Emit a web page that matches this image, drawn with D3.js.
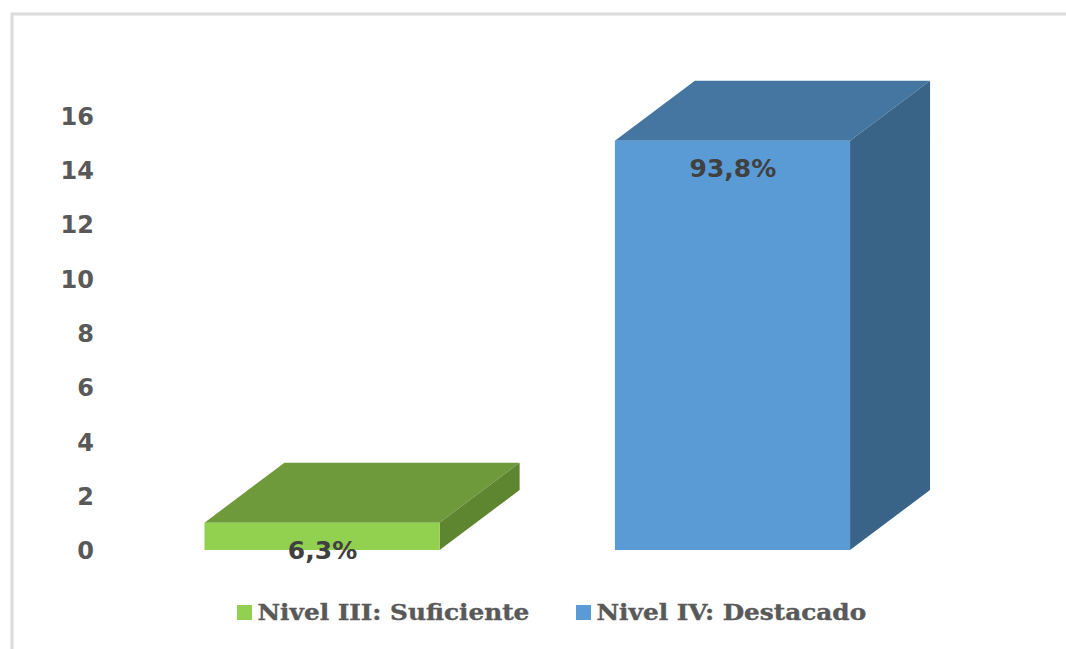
<!DOCTYPE html>
<html lang="en">

<head>
    <meta charset="UTF-8">
    <title>Niveles</title>
    <style>
        body { margin: 0; background: #fff; }
        svg { display: block; }
    </style>
</head>

<body>
    <script src="https://d3js.org/d3.v7.min.js"></script>
    <div id="chart"></div>
    <script>
        const categories = ["Nivel III: Suficiente", "Nivel IV: Destacado"]
        const values = [1, 15]
        const labels = ["6,3%", "93,8%"]
        const yTicks = [0, 2, 4, 6, 8, 10, 12, 14, 16]
        const frontColors = ["#92d050", "#5b9bd5"]
        const topColors = ["#6f9a3c", "#4575a1"]
        const sideColors = ["#5e8530", "#3a6487"]

        const WIDTH = 1066
        const HEIGHT = 649
        const DEPTH_X = 80
        const DEPTH_Y = 60
        const LEGEND_STRETCH = 1.125

        const svg = d3.select("#chart")
            .append("svg")
            .attr("width", WIDTH)
            .attr("height", HEIGHT)

        // frame of the pasted picture, open on the right and bottom
        svg.append("path")
            .attr("d", `M 12,${HEIGHT} V 14 H ${WIDTH}`)
            .attr("fill", "none")
            .attr("stroke", "#dcdcdc")
            .attr("stroke-width", 3)

        const x = d3.scaleBand()
            .domain(categories)
            .range([119.5, 935])
            .paddingInner(0.427)
            .paddingOuter(0.207)

        const y = d3.scaleLinear()
            .domain([0, 16])
            .range([550, 113.4])

        // the 3D view puts the axis labels slightly tighter than the bar faces
        const yLabels = d3.scaleLinear()
            .domain([0, 16])
            .range([550, 115.5])

        const yAxisCall = d3.axisLeft(yLabels)
            .tickValues(yTicks)
            .tickSize(0)
            .tickPadding(0)

        const yAxis = svg.append("g")
            .attr("class", "y axis")
            .attr("transform", "translate(94, 0)")
            .call(yAxisCall)
        yAxis.select(".domain").remove()
        yAxis.selectAll("text")
            .attr("dy", "0.36em")
            .style("font-family", "'DejaVu Sans'")
            .style("font-weight", "bold")
            .style("font-size", "24px")
            .style("fill", "#595959")

        const bars = svg.selectAll(".bar")
            .data(categories)
            .enter()
            .append("g")
            .attr("class", "bar")

        // top face
        bars.append("path")
            .attr("d", (d, i) => {
                const x0 = x(d), x1 = x0 + x.bandwidth(), yTop = y(values[i])
                return `M ${x0},${yTop} L ${x0 + DEPTH_X},${yTop - DEPTH_Y} H ${x1 + DEPTH_X} L ${x1},${yTop} Z`
            })
            .attr("fill", (d, i) => topColors[i])

        // side face
        bars.append("path")
            .attr("d", (d, i) => {
                const x1 = x(d) + x.bandwidth(), yTop = y(values[i]), yBase = y(0)
                return `M ${x1},${yBase} L ${x1 + DEPTH_X},${yBase - DEPTH_Y} V ${yTop - DEPTH_Y} L ${x1},${yTop} Z`
            })
            .attr("fill", (d, i) => sideColors[i])

        // front face
        bars.append("rect")
            .attr("x", d => x(d))
            .attr("y", (d, i) => y(values[i]))
            .attr("width", x.bandwidth())
            .attr("height", (d, i) => y(0) - y(values[i]))
            .attr("fill", (d, i) => frontColors[i])

        bars.append("text")
            .attr("x", d => x(d) + x.bandwidth() / 2 + 0.5)
            .attr("y", (d, i) => y(values[i]) + 36)
            .attr("text-anchor", "middle")
            .style("font-family", "'DejaVu Sans'")
            .style("font-weight", "bold")
            .style("font-size", "25px")
            .style("fill", "#404040")
            .text((d, i) => labels[i])

        const legend = svg.selectAll(".legend")
            .data(categories)
            .enter()
            .append("g")
            .attr("class", "legend")
            .attr("transform", (d, i) => `translate(${[237, 576][i]}, 605)`)

        legend.append("rect")
            .attr("width", 15)
            .attr("height", 15)
            .attr("fill", (d, i) => frontColors[i])

        legend.append("text")
            .attr("transform", `translate(20.5, 15) scale(${LEGEND_STRETCH}, 1)`)
            .style("font-family", "'DejaVu Serif'")
            .style("font-weight", "bold")
            .style("font-size", "22px")
            .style("fill", "#595959")
            .style("stroke", "#595959")
            .style("stroke-width", 0.4)
            .text(d => d)
    </script>
</body>

</html>
